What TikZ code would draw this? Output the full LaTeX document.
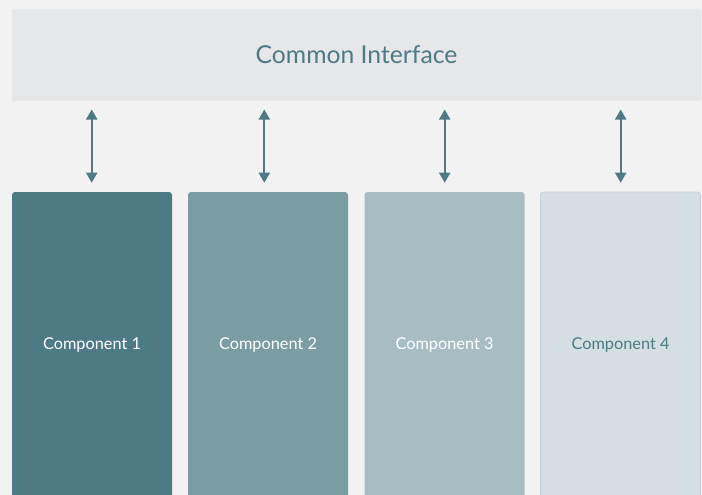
\documentclass[tikz,border=0pt]{standalone}
\usepackage{fontspec}
\setmainfont{Lato}
\usetikzlibrary{arrows.meta}
\definecolor{bgc}{HTML}{F2F2F2}
\definecolor{topc}{HTML}{E5E7E9}
\definecolor{teal}{HTML}{4E7A85}
\definecolor{cA}{HTML}{4E7A85}
\definecolor{cB}{HTML}{7A9CA3}
\definecolor{cC}{HTML}{A7BDC2}
\definecolor{cD}{HTML}{D3DFE3}
\definecolor{cDb}{HTML}{C2D1D6}
\tikzset{
  topbox/.style={fill=topc, rounded corners=2pt, minimum width=689pt, minimum height=92pt, inner sep=0pt, text=teal, font=\fontsize{24.7}{28}\selectfont},
  comp/.style={rounded corners=3pt, minimum width=160pt, minimum height=306pt, inner sep=0pt, font=\fontsize{16.3}{19}\selectfont},
  arr/.style={draw=teal, line width=2pt, {Triangle[length=10pt,width=11pt]}-{Triangle[length=10pt,width=11pt]}}
}
\begin{document}
\begin{tikzpicture}[x=1pt,y=-1pt]
\fill[bgc] (0,0) rectangle (702,495);
\useasboundingbox (0,0) rectangle (702,495);
\node[topbox] (iface) at (356.5,55) {Common Interface};
\node[comp, fill=cA, text=white] (c1) at (92,345) {Component 1};
\node[comp, fill=cB, text=white] (c2) at (268,345) {Component 2};
\node[comp, fill=cC, text=white] (c3) at (444.5,345) {Component 3};
\node[comp, fill=cD, draw=cDb, line width=0.8pt, text=teal] (c4) at (620.5,345) {Component 4};
\coordinate (t1) at (91.7,109.5); \coordinate (b1) at (91.7,182.7);
\coordinate (t2) at (264.3,109.5); \coordinate (b2) at (264.3,182.7);
\coordinate (t3) at (444.7,109.5); \coordinate (b3) at (444.7,182.7);
\coordinate (t4) at (620.7,109.5); \coordinate (b4) at (620.7,182.7);
\draw[arr] (t1) -- (b1);
\draw[arr] (t2) -- (b2);
\draw[arr] (t3) -- (b3);
\draw[arr] (t4) -- (b4);
\end{tikzpicture}
\end{document}
